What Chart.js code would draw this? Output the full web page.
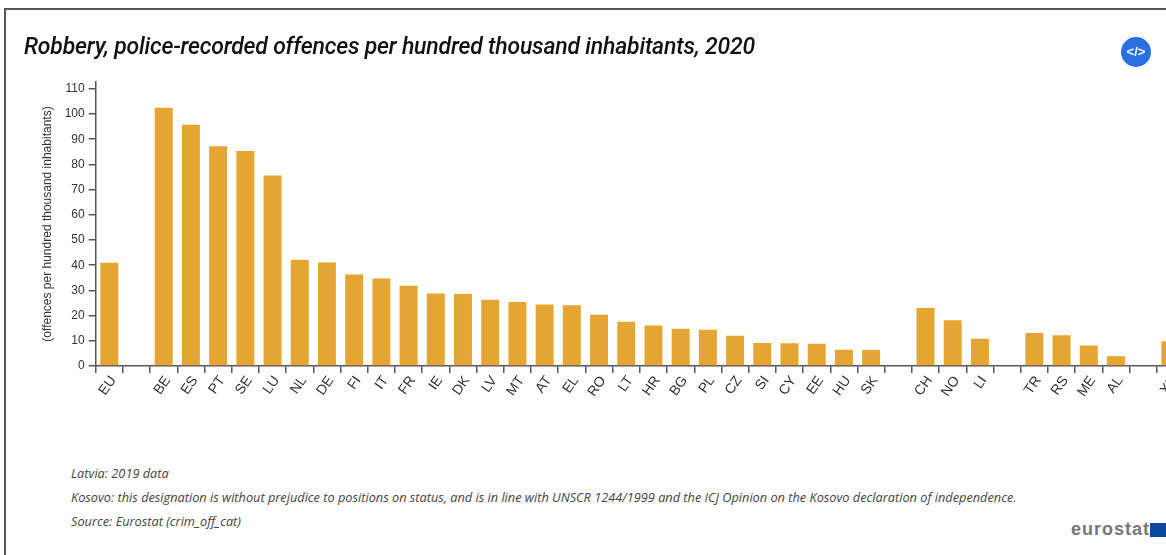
<!DOCTYPE html>
<html>
<head>
<meta charset="utf-8">
<script src="https://cdn.jsdelivr.net/npm/chart.js@4"></script>
<style>
  html, body { margin: 0; padding: 0; background: #fff; }
  body { position: relative; width: 1166px; height: 555px; overflow: hidden; }
  #frame { position: absolute; left: 4px; top: 8px; width: 1170px; height: 560px; border: 2px solid #555; box-sizing: border-box; }
  #barChart { position: absolute; left: 0; top: 0; }
  #title { position: absolute; left: 24px; top: 32px; font: italic 500 24px Roboto, sans-serif; color: #111; white-space: nowrap; letter-spacing: -0.2px; transform: scaleX(0.958); transform-origin: left top; }
  .note { position: absolute; left: 71px; font: italic 12.75px "Open Sans", sans-serif; color: #444; white-space: nowrap; }
  #code { position: absolute; left: 1121px; top: 37px; width: 30px; height: 30px; border-radius: 50%; background: #2a6fdf; color: #fff; font: bold 13px/30px "Liberation Sans", sans-serif; text-align: center; }
  #logo { position: absolute; left: 1071px; top: 519px; font: bold 18px "Liberation Sans", sans-serif; letter-spacing: 1px; color: #777; }
  #flag { position: absolute; left: 1150px; top: 523px; width: 20px; height: 14px; background: #0e47a1; }
</style>
</head>
<body>
<div id="frame"></div>
<canvas id="barChart" width="1200" height="430"></canvas>
<div id="title">Robbery, police-recorded offences per hundred thousand inhabitants, 2020</div>
<div class="note" style="top:464px">Latvia: 2019 data</div>
<div class="note" style="top:488px">Kosovo: this designation is without prejudice to positions on status, and is in line with UNSCR 1244/1999 and the ICJ Opinion on the Kosovo declaration of independence.</div>
<div class="note" style="top:512px">Source: Eurostat (crim_off_cat)</div>
<div id="code">&lt;/&gt;</div>
<div id="logo">eurostat</div>
<div id="flag"></div>
<script>
const categories = ["EU", "", "BE", "ES", "PT", "SE", "LU", "NL", "DE", "FI", "IT", "FR", "IE", "DK", "LV", "MT", "AT", "EL", "RO", "LT", "HR", "BG", "PL", "CZ", "SI", "CY", "EE", "HU", "SK", "", "CH", "NO", "LI", "", "TR", "RS", "ME", "AL", "", "XK"];
const values = [41, null, 102.5, 95.7, 87.2, 85.3, 75.6, 42.2, 41.1, 36.3, 34.7, 31.8, 28.8, 28.6, 26.3, 25.4, 24.4, 24.1, 20.3, 17.6, 16.1, 14.8, 14.4, 12, 9.1, 9, 8.8, 6.4, 6.3, null, 23, 18.2, 10.8, null, 13.1, 12.2, 8.1, 3.9, null, 9.8];
const yTitle = "(offences per hundred thousand inhabitants)";

const axisColor = "#555";
const textColor = "#333";

new Chart(document.getElementById("barChart"), {
  type: "bar",
  data: {
    labels: categories,
    datasets: [{
      data: values,
      backgroundColor: "#e5a532",
      barPercentage: 0.66,
      categoryPercentage: 1
    }]
  },
  options: {
    responsive: false,
    animation: false,
    layout: { padding: { left: 40, top: 82, right: 16, bottom: 0 } },
    plugins: { legend: { display: false }, tooltip: { enabled: false } },
    scales: {
      x: {
        afterFit: s => { s.height = 64; },
        border: { color: axisColor, width: 1.5 },
        grid: { offset: true, drawOnChartArea: false, color: axisColor, lineWidth: 1.5, tickLength: 7 },
        ticks: {
          autoSkip: false,
          minRotation: 55,
          maxRotation: 55,
          padding: 0,
          labelOffset: 4,
          color: textColor,
          font: { family: "Liberation Sans", size: 14 }
        }
      },
      y: {
        min: 0,
        max: 112.7,
        afterFit: s => { s.width = 55.7; },
        border: { color: axisColor, width: 1.5 },
        grid: { drawOnChartArea: false, color: axisColor, lineWidth: 1.5, tickLength: 7 },
        ticks: {
          stepSize: 10,
          includeBounds: false,
          padding: 4,
          color: textColor,
          font: { family: "Liberation Sans", size: 12 }
        },
        title: {
          display: true,
          text: yTitle,
          color: textColor,
          padding: 0,
          font: { family: "Liberation Sans", size: 12 }
        }
      }
    }
  }
});
</script>
</body>
</html>
